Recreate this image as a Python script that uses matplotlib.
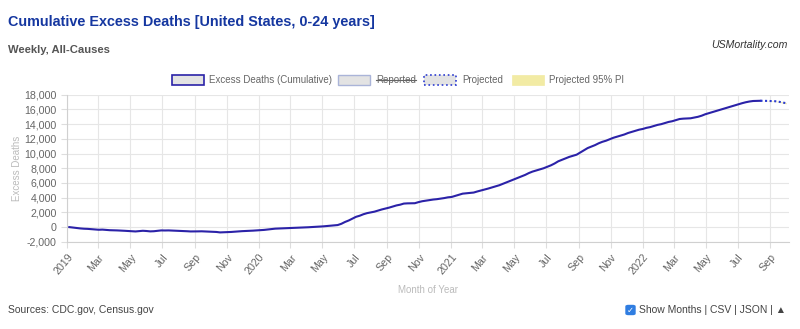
import numpy as np
import pandas as pd
import matplotlib
matplotlib.use("Agg")
import matplotlib.pyplot as plt
import matplotlib.dates as mdates
from matplotlib.patches import Rectangle, FancyBboxPatch
from matplotlib.lines import Line2D

plt.rcParams['font.family'] = ['Liberation Sans', 'DejaVu Sans']

# weekly cumulative excess deaths, week ending 2019-01-05 .. 2022-08-13
start_week = "2019-01-05"
excess = [
    # 2019
    0, -60, -120, -180,
    -220, -240, -280, -330,
    -360, -340, -380, -420, -430,
    -450, -470, -500, -530,
    -560, -590, -540, -500,
    -530, -580, -560, -500, -450,
    -460, -450, -470, -490,
    -500, -530, -560, -590, -590,
    -580, -570, -590, -600,
    -620, -660, -720, -700,
    -680, -660, -620, -580, -550,
    -530, -510, -480, -450,
    # 2020
    -420, -380, -320, -250,
    -210, -190, -170, -150, -130,
    -110, -90, -60, -40,
    -20, 10, 40, 80,
    100, 150, 190, 230, 280,
    450, 700, 900, 1150,
    1400, 1550, 1750, 1900,
    2000, 2100, 2250, 2400, 2520,
    2650, 2800, 2950, 3050,
    3200, 3230, 3240, 3250, 3400,
    3520, 3600, 3680, 3750,
    3800, 3870, 3950, 4050,
    # 2021
    4100, 4250, 4400, 4550, 4600,
    4650, 4700, 4850, 4980,
    5100, 5250, 5400, 5550,
    5700, 5900, 6100, 6300,
    6500, 6700, 6900, 7100, 7350,
    7550, 7700, 7850, 8000,
    8200, 8400, 8650, 8950, 9150,
    9350, 9550, 9700, 9850,
    10150, 10450, 10750, 10950,
    11150, 11400, 11600, 11750, 11950,
    12150, 12300, 12450, 12600,
    12800, 12950, 13100, 13250,
    # 2022
    13350, 13500, 13600, 13750, 13900,
    14000, 14150, 14300, 14400,
    14550, 14700, 14750, 14770,
    14800, 14900, 15000, 15150, 15350,
    15500, 15650, 15800, 15950,
    16100, 16250, 16400, 16550,
    16700, 16850, 16980, 17080, 17150,
    17170, 17180,
]

# projection from 2022-08-13 onwards
proj_start = "2022-08-13"
projected = [17180, 17170, 17160, 17140, 17120, 17050, 16950, 16850]
proj_lo = [17180, 17160, 17140, 17110, 17080, 17000, 16880, 16760]
proj_hi = [17180, 17180, 17180, 17170, 17160, 17100, 17020, 16940]

y_ticks = list(range(-2000, 18001, 2000))

dates = pd.date_range(start_week, periods=len(excess), freq="7D")
pdates = pd.date_range(proj_start, periods=len(projected), freq="7D")

fig = plt.figure(figsize=(8, 3.29), dpi=100)
ax = fig.add_axes([0.084, 0.265, 0.902, 0.447])

line_c = "#2b22a8"
ax.fill_between(pdates, proj_lo, proj_hi, color="#f0e9a0", lw=0, zorder=2)
ax.plot(dates, excess, color=line_c, lw=1.5, zorder=3)
ax.plot(pdates, projected, color="#2b3bd0", lw=1.5, ls=(0, (1, 1.2)), zorder=3)

ax.set_ylim(-2000, 18000)
ax.set_yticks(y_ticks)
ax.set_yticklabels([f"{v:,}" for v in y_ticks])
ax.set_xlim(pd.Timestamp("2019-01-01"), pd.Timestamp("2022-10-06"))

ax.xaxis.set_major_locator(mdates.MonthLocator(bymonth=[1, 3, 5, 7, 9, 11]))
def fmt(x, pos):
    d = mdates.num2date(x)
    return str(d.year) if d.month == 1 else d.strftime("%b")
ax.xaxis.set_major_formatter(plt.FuncFormatter(fmt))
for lab in ax.get_xticklabels():
    lab.set_rotation(50)
    lab.set_ha("right")
    lab.set_rotation_mode("anchor")

ax.tick_params(axis="both", colors="#dddddd", labelcolor="#666666", labelsize=7.7, length=4, width=0.8)
ax.grid(True, color="#e6e6e6", lw=0.8)
ax.set_axisbelow(True)
for s in ["top", "right"]:
    ax.spines[s].set_visible(False)
for s in ["left", "bottom"]:
    ax.spines[s].set_color("#d0d0d0")
    ax.spines[s].set_linewidth(0.8)

ax.set_ylabel("Excess Deaths", color="#bbbbbb", fontsize=7, labelpad=2)
ax.set_xlabel("Month of Year", color="#bbbbbb", fontsize=7, labelpad=6)

# titles
fig.text(8 / 800, 1 - 22 / 329, "Cumulative Excess Deaths [United States, 0-24 years]",
         color="#1537a0", fontsize=10.4, fontweight="bold", va="center")
fig.text(8 / 800, 1 - 50 / 329, "Weekly, All-Causes", color="#555555", fontsize=8.1,
         fontweight="bold", va="center")
fig.text(788 / 800, 1 - 45 / 329, "USMortality.com", color="#333333", fontsize=7.6,
         style="italic", ha="right", va="center")

# legend
ly = 1 - 80 / 329
bh = 10 / 329
items = [
    (172, "#e3e3e3", "#2b22a8", "-", 1.2, "Excess Deaths (Cumulative)", 209),
    (338, "#e3e3e3", "#aab4d8", "-", 1.0, "Reported", 376),
    (424, "#e3e3e3", "#2b3bd0", ":", 1.2, "Projected", 462),
    (512, "#f2eba4", "#f2eba4", "-", 0.5, "Projected 95% PI", 549),
]
for bx, fc, ec, ls, lw, txt, tx in items:
    fig.patches.append(Rectangle((bx / 800, ly - bh / 2), 32 / 800, bh, facecolor=fc,
                                 edgecolor=ec, linestyle=ls, linewidth=lw,
                                 transform=fig.transFigure, figure=fig))
    t = fig.text(tx / 800, ly, txt, color="#666666", fontsize=7, va="center")
fig.lines.append(Line2D([376 / 800, 416 / 800], [ly, ly], color="#666666", lw=0.8,
                        transform=fig.transFigure, figure=fig))

# footer
fy = 1 - 310 / 329
fig.text(8 / 800, fy, "Sources: CDC.gov, Census.gov", color="#444444", fontsize=7.5, va="center")
fig.patches.append(FancyBboxPatch((626 / 800, fy - 4.5 / 329), 9 / 800, 9 / 329,
                                  boxstyle="round,pad=0,rounding_size=0.003",
                                  facecolor="#2f7de1", edgecolor="#2f7de1",
                                  transform=fig.transFigure, figure=fig))
fig.text(630.5 / 800, fy, "\u2713", color="white", fontsize=6, ha="center", va="center",
         family="DejaVu Sans", fontweight="bold")
fig.text(639 / 800, fy, "Show Months | CSV | JSON | \u25b2", color="#444444", fontsize=7.5,
         va="center")

fig.savefig("out.png", dpi=100)
